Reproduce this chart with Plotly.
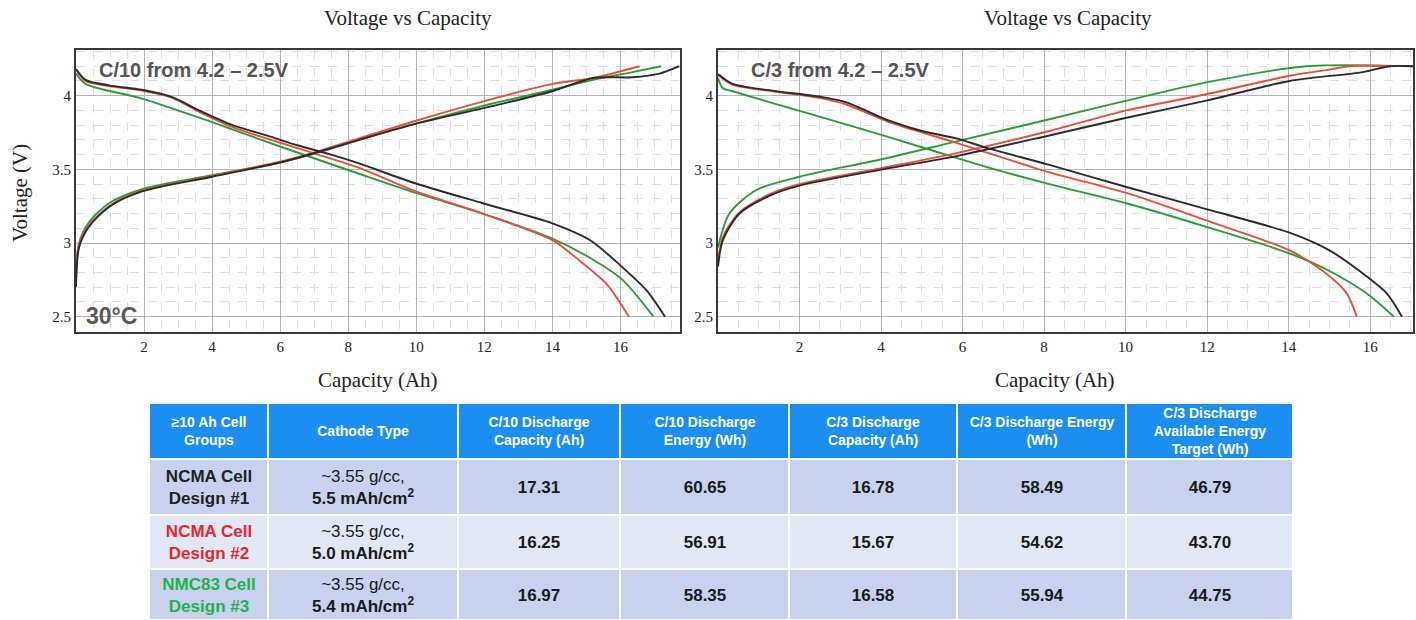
import plotly.graph_objects as go

# ---------------- Curve data (capacity in Ah, voltage in V) ----------------
# C/10 cycle
c10_dis_cap_1 = [0.0, 0.28, 0.97, 1.94, 2.83, 3.62, 4.6, 5.6, 6.56, 7.5, 8.32, 9.99, 11.95, 14.0, 15.1, 16.06, 16.76, 17.31]
c10_dis_v_1 = [4.18, 4.107, 4.07, 4.04, 3.99, 3.90, 3.80, 3.73, 3.66, 3.60, 3.54, 3.404, 3.27, 3.134, 3.02, 2.835, 2.68, 2.5]
c10_dis_cap_2 = [0.0, 0.28, 0.97, 1.94, 2.83, 3.62, 4.6, 6.56, 8.32, 9.99, 11.95, 14.0, 14.8, 15.6, 16.25]
c10_dis_v_2 = [4.18, 4.10, 4.065, 4.035, 3.985, 3.89, 3.786, 3.64, 3.51, 3.35, 3.20, 3.02, 2.88, 2.72, 2.5]
c10_dis_cap_3 = [0.0, 0.28, 1.94, 4.0, 6.06, 8.32, 9.99, 11.95, 14.0, 15.1, 16.06, 16.97]
c10_dis_v_3 = [4.15, 4.08, 3.98, 3.82, 3.65, 3.47, 3.34, 3.20, 3.03, 2.90, 2.75, 2.5]

c10_chg_cap_1 = [0.0, 0.09, 0.38, 0.97, 1.94, 4.0, 6.06, 7.15, 8.32, 9.99, 11.95, 14.0, 15.2, 16.35, 17.15, 17.73]
c10_chg_v_1 = [2.70, 2.97, 3.11, 3.245, 3.35, 3.45, 3.55, 3.62, 3.70, 3.81, 3.914, 4.03, 4.12, 4.125, 4.15, 4.2]
c10_chg_cap_2 = [0.0, 0.09, 0.38, 0.97, 1.94, 4.0, 6.06, 7.15, 8.32, 9.99, 11.95, 14.0, 15.2, 16.56]
c10_chg_v_2 = [2.78, 2.99, 3.12, 3.25, 3.355, 3.455, 3.555, 3.625, 3.71, 3.83, 3.96, 4.08, 4.12, 4.2]
c10_chg_cap_3 = [0.0, 0.09, 0.38, 0.97, 1.94, 4.0, 6.06, 7.15, 8.32, 9.99, 11.95, 14.0, 15.2, 16.35, 17.2]
c10_chg_v_3 = [2.75, 3.00, 3.14, 3.27, 3.365, 3.46, 3.55, 3.615, 3.70, 3.81, 3.93, 4.04, 4.107, 4.16, 4.2]

# C/3 cycle
c3_dis_cap_1 = [0.0, 0.36, 1.34, 2.57, 3.15, 4.2, 5.0, 5.85, 6.66, 8.13, 10.02, 11.98, 14.02, 15.0, 15.74, 16.4, 16.78]
c3_dis_v_1 = [4.147, 4.08, 4.034, 3.99, 3.955, 3.83, 3.76, 3.71, 3.64, 3.53, 3.38, 3.23, 3.07, 2.95, 2.81, 2.66, 2.5]
c3_dis_cap_2 = [0.0, 0.36, 1.34, 2.57, 3.15, 4.2, 5.85, 8.13, 10.02, 11.98, 14.02, 14.84, 15.42, 15.67]
c3_dis_v_2 = [4.14, 4.075, 4.03, 3.98, 3.94, 3.82, 3.68, 3.48, 3.34, 3.153, 2.95, 2.81, 2.66, 2.5]
c3_dis_cap_3 = [0.0, 0.12, 0.36, 1.34, 3.39, 5.0, 6.66, 8.13, 10.02, 11.98, 14.02, 15.0, 15.9, 16.58]
c3_dis_v_3 = [4.12, 4.05, 4.03, 3.95, 3.785, 3.65, 3.51, 3.40, 3.27, 3.11, 2.93, 2.81, 2.66, 2.5]

c3_chg_cap_1 = [0.0, 0.12, 0.53, 1.34, 2.0, 4.04, 5.85, 8.13, 10.02, 11.98, 14.02, 15.82, 16.48, 17.05]
c3_chg_v_1 = [2.84, 3.02, 3.20, 3.33, 3.39, 3.50, 3.59, 3.73, 3.85, 3.966, 4.10, 4.16, 4.2, 4.2]
c3_chg_cap_2 = [0.0, 0.12, 0.53, 1.34, 2.0, 4.04, 5.85, 8.13, 10.02, 11.98, 14.02, 14.84, 15.5, 16.5]
c3_chg_v_2 = [2.87, 3.04, 3.21, 3.34, 3.40, 3.51, 3.61, 3.76, 3.90, 4.01, 4.135, 4.17, 4.2, 4.2]
c3_chg_cap_3 = [0.0, 0.28, 0.94, 2.0, 4.04, 5.85, 8.13, 10.02, 11.98, 14.43, 17.05]
c3_chg_v_3 = [2.97, 3.20, 3.36, 3.45, 3.57, 3.69, 3.84, 3.966, 4.09, 4.2, 4.2]

# ---------------- Table data ----------------
header_labels = [
    "≥10 Ah Cell<br>Groups", "Cathode Type", "C/10 Discharge<br>Capacity (Ah)",
    "C/10 Discharge<br>Energy (Wh)", "C/3 Discharge<br>Capacity (Ah)",
    "C/3 Discharge Energy<br>(Wh)", "C/3 Discharge<br>Available Energy<br>Target (Wh)",
]
cell_groups = ["NCMA Cell<br>Design #1", "NCMA Cell<br>Design #2", "NMC83 Cell<br>Design #3"]
cathode_density = ["~3.55 g/cc,", "~3.55 g/cc,", "~3.55 g/cc,"]
cathode_loading = ["5.5 mAh/cm<sup>2</sup>", "5.0 mAh/cm<sup>2</sup>", "5.4 mAh/cm<sup>2</sup>"]
c10_capacity = [17.31, 16.25, 16.97]
c10_energy = [60.65, 56.91, 58.35]
c3_capacity = [16.78, 15.67, 16.58]
c3_energy = [58.49, 54.62, 55.94]
c3_target = [46.79, 43.70, 44.75]

# table geometry (column widths / row heights in px)
col_widths = [119, 190, 162, 169, 168, 169, 167]
header_height = 56
row_heights = [56, 54, 51]

COLORS = ["#2b2b2b", "#e2513f", "#2f9a3c"]
TEXT_COLORS = ["#222222", "#e8262b", "#22b14c"]
SERIF = "Liberation Serif, Times New Roman, serif"
SANS = "Liberation Sans, Arial, sans-serif"

fig = go.Figure()

def add_curve(xs, ys, color, xa, ya):
    fig.add_trace(go.Scatter(
        x=xs, y=ys, mode="lines", xaxis=xa, yaxis=ya, showlegend=False,
        line=dict(color=color, width=1.9, shape="spline", smoothing=0.8),
        hoverinfo="skip",
    ))

c10_sets = [
    (c10_dis_cap_1, c10_dis_v_1, c10_chg_cap_1, c10_chg_v_1),
    (c10_dis_cap_2, c10_dis_v_2, c10_chg_cap_2, c10_chg_v_2),
    (c10_dis_cap_3, c10_dis_v_3, c10_chg_cap_3, c10_chg_v_3),
]
c3_sets = [
    (c3_dis_cap_1, c3_dis_v_1, c3_chg_cap_1, c3_chg_v_1),
    (c3_dis_cap_2, c3_dis_v_2, c3_chg_cap_2, c3_chg_v_2),
    (c3_dis_cap_3, c3_dis_v_3, c3_chg_cap_3, c3_chg_v_3),
]
# green, red, then black on top
for i in [2, 1, 0]:
    dx, dy, cx, cy = c10_sets[i]
    add_curve(cx, cy, COLORS[i], "x", "y")
    add_curve(dx, dy, COLORS[i], "x", "y")
    dx, dy, cx, cy = c3_sets[i]
    add_curve(cx, cy, COLORS[i], "x2", "y2")
    add_curve(dx, dy, COLORS[i], "x2", "y2")

W, H = 1416, 620
y_dom = [1 - 332 / H, 1 - 50 / H]

axis_common = dict(
    showline=True, mirror=True, linewidth=2, linecolor="#3a3a3a",
    showgrid=True, gridcolor="#b4b4b4", gridwidth=1, zeroline=False,
    ticks="", tickfont=dict(family=SERIF, size=15, color="#222"),
)
minor_x = dict(dtick=0.5, showgrid=True, gridcolor="#dedede", griddash="dash")
minor_y = dict(dtick=0.1, tick0=2.5, showgrid=True, gridcolor="#dedede", griddash="dash")
x_ticks = list(range(2, 17, 2))
y_ticks = [2.5, 3, 3.5, 4]

fig.update_layout(
    width=W, height=H, margin=dict(l=0, r=0, t=0, b=0),
    paper_bgcolor="white", plot_bgcolor="white",
    xaxis=dict(domain=[76 / W, 680 / W], range=[0, 17.75], tickvals=x_ticks,
               anchor="y", minor=minor_x, **axis_common),
    yaxis=dict(domain=y_dom, range=[2.396, 4.31], tickvals=y_ticks,
               anchor="x", minor=minor_y, **axis_common),
    xaxis2=dict(domain=[718 / W, 1413 / W], range=[0, 17.05], tickvals=x_ticks,
                anchor="y2", minor=minor_x, **axis_common),
    yaxis2=dict(domain=y_dom, range=[2.396, 4.31], tickvals=y_ticks,
                anchor="x2", minor=minor_y, **axis_common),
)

# ---------------- Summary table drawn as heatmap bricks ----------------
total_w = sum(col_widths)
total_h = header_height + sum(row_heights)
x_edges = [0]
for w in col_widths:
    x_edges.append(x_edges[-1] + w)
y_edges_body = [header_height]
for h in row_heights:
    y_edges_body.append(y_edges_body[-1] + h)

fig.update_layout(
    xaxis3=dict(domain=[149 / W, (149 + total_w) / W], range=[0, total_w], visible=False,
                anchor="y3", fixedrange=True),
    yaxis3=dict(domain=[0, total_h / H], range=[total_h, 0], visible=False,
                anchor="x3", fixedrange=True),
)

fig.add_trace(go.Heatmap(
    x=x_edges, y=[0, header_height], z=[[0] * len(col_widths)],
    xaxis="x3", yaxis="y3", zmin=0, zmax=1,
    colorscale=[[0, "#1c8ef2"], [1, "#1c8ef2"]], showscale=False,
    xgap=2, ygap=2, hoverinfo="skip",
    text=[[f"<b>{h}</b>" for h in header_labels]], texttemplate="%{text}",
    textfont=dict(family=SANS, size=14, color="white"),
))

body_text = []
for r in range(3):
    body_text.append([
        f"<b><span style='color:{TEXT_COLORS[r]}'>{cell_groups[r]}</span></b>",
        f"{cathode_density[r]}<br><b>{cathode_loading[r]}</b>",
        f"<b>{c10_capacity[r]:.2f}</b>",
        f"<b>{c10_energy[r]:.2f}</b>",
        f"<b>{c3_capacity[r]:.2f}</b>",
        f"<b>{c3_energy[r]:.2f}</b>",
        f"<b>{c3_target[r]:.2f}</b>",
    ])
row_shade = [0, 1, 0]

fig.add_trace(go.Heatmap(
    x=x_edges, y=y_edges_body, z=[[row_shade[r]] * len(col_widths) for r in range(3)],
    xaxis="x3", yaxis="y3", zmin=0, zmax=1,
    colorscale=[[0, "#c8d2ef"], [1, "#e2e7f6"]], showscale=False,
    xgap=2, ygap=2, hoverinfo="skip",
    text=body_text, texttemplate="%{text}",
    textfont=dict(family=SANS, size=17, color="#1a1a1a"),
))

annotations = [
    dict(text="Voltage vs Capacity", x=408 / W, y=1 - 18 / H, xref="paper", yref="paper",
         xanchor="center", yanchor="middle", showarrow=False, font=dict(family=SERIF, size=21, color="#222")),
    dict(text="Voltage vs Capacity", x=1068 / W, y=1 - 18 / H, xref="paper", yref="paper",
         xanchor="center", yanchor="middle", showarrow=False, font=dict(family=SERIF, size=21, color="#222")),
    dict(text="Capacity (Ah)", x=378 / W, y=1 - 380 / H, xref="paper", yref="paper",
         xanchor="center", yanchor="middle", showarrow=False, font=dict(family=SERIF, size=21, color="#222")),
    dict(text="Capacity (Ah)", x=1055 / W, y=1 - 380 / H, xref="paper", yref="paper",
         xanchor="center", yanchor="middle", showarrow=False, font=dict(family=SERIF, size=21, color="#222")),
    dict(text="Voltage (V)", x=20 / W, y=1 - 193 / H, xref="paper", yref="paper", textangle=-90,
         xanchor="center", yanchor="middle", showarrow=False, font=dict(family=SERIF, size=21, color="#222")),
    dict(text="<b>C/10 from 4.2 – 2.5V</b>", x=0.034, y=0.929, xref="x domain", yref="y domain",
         xanchor="left", yanchor="middle", showarrow=False, font=dict(family=SANS, size=20, color="#555")),
    dict(text="<b>30°C</b>", x=0.013, y=0.055, xref="x domain", yref="y domain",
         xanchor="left", yanchor="middle", showarrow=False, font=dict(family=SANS, size=23, color="#5a5a5a")),
    dict(text="<b>C/3 from 4.2 – 2.5V</b>", x=0.044, y=0.929, xref="x2 domain", yref="y2 domain",
         xanchor="left", yanchor="middle", showarrow=False, font=dict(family=SANS, size=20, color="#555")),
]
fig.update_layout(annotations=annotations)

fig.write_html("out.html")
